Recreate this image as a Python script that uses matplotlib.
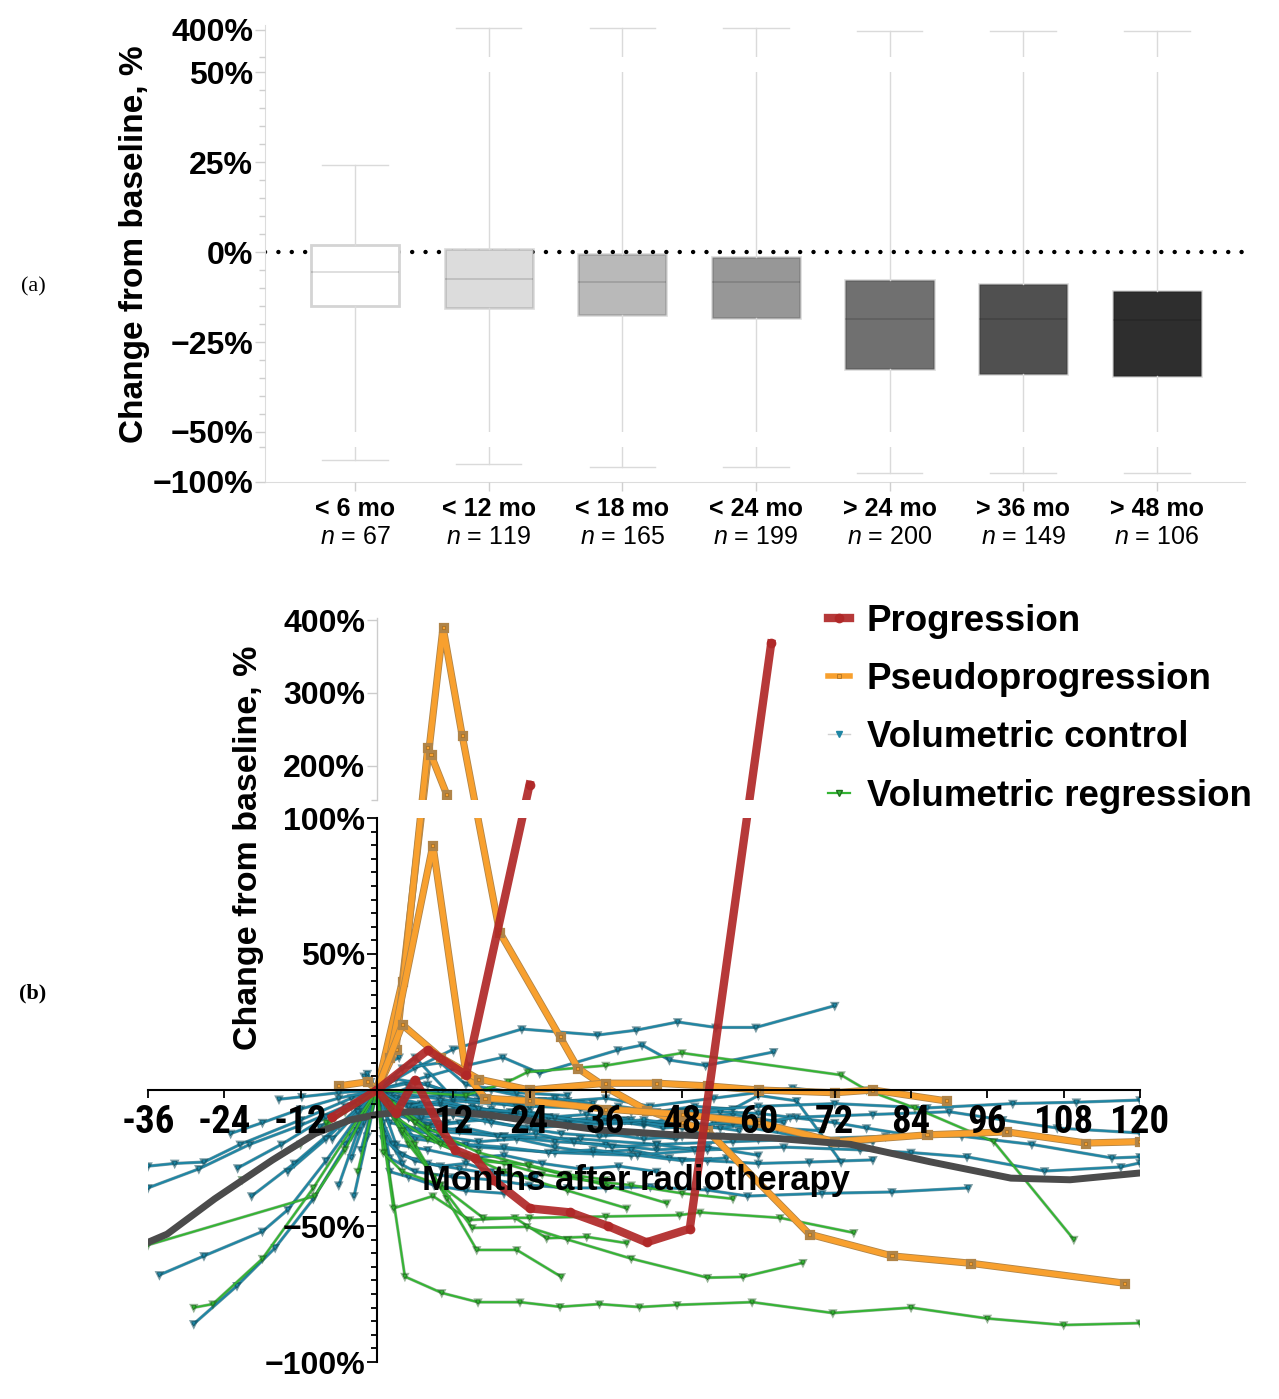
import numpy as np
import matplotlib
matplotlib.use("Agg")
import matplotlib.pyplot as plt
import matplotlib.patheffects as pe
from matplotlib.lines import Line2D
from matplotlib.ticker import FixedLocator, NullFormatter

plt.rcParams['font.family'] = ['Liberation Sans', 'DejaVu Sans']
plt.rcParams['mathtext.fontset'] = 'custom'
plt.rcParams['mathtext.rm'] = 'Liberation Sans'
plt.rcParams['mathtext.it'] = 'Liberation Sans:italic'

# ---------------- panel (a) data ----------------
groups = ['< 6 mo', '< 12 mo', '< 18 mo', '< 24 mo', '> 24 mo', '> 36 mo', '> 48 mo']
group_n = [67, 119, 165, 199, 200, 149, 106]
box_q3 = [1.9, 0.8, -0.6, -1.4, -7.9, -9.0, -10.9]
box_med = [-5.6, -7.5, -8.2, -8.4, -18.5, -18.7, -19.0]
box_q1 = [-15.0, -15.5, -17.6, -18.4, -32.4, -34.0, -34.5]
whisk_hi = [24.2, 401.6, 401.6, 401.6, 399.5, 399.5, 399.5]
whisk_lo = [-87.4, -89.7, -91.4, -91.4, -94.9, -94.9, -94.9]

# ---------------- panel (b) data ----------------
prog_months = [[0, 8, 14, 24],
               [-7, 0, 3, 6, 10, 12.3, 15.4, 18.3, 24, 30.4, 36.3, 42.4, 49.2, 62]]
prog_pct = [[0, 14.7, 5.5, 174],
            [-10, 0, -8.5, 3.7, -14, -22, -25, -33, -43.5, -45, -50, -56, -51, 368]]

pseudo_months = [[0, 4, 10.4, 13.4, 19.3, 28.8, 31.6, 36, 42.4, 48, 52, 68, 81, 93.4, 117.5],
                 [0, 3, 8, 8.5, 11],
                 [0, 2, 8.8, 14, 17, 24, 36, 48, 60, 72, 86.5, 99, 111.5, 120],
                 [-6, -1.5, 0, 4, 10, 16, 24, 36, 44, 52, 60, 72, 78, 89.5]]
pseudo_pct = [[0, 40, 390, 242, 58, 19.5, 8, 1, -7.4, -12, -15, -53, -61, -63.7, -71],
              [0, 15, 225, 215, 160],
              [0, 12, 90, 6, -3, -4, -7, -9, -12, -19, -16.5, -15.4, -19.5, -19],
              [1.5, 3, 0, 24, 12, 4, 0, 2.5, 2.5, 1.5, 0, -1, 0, -4]]

ctrl_months = [
    [-36, -31.8, -27.2, -21.5, -12, -4, 0],
    [-36, -28, -20, -12, -5, 0],
    [-34.2, -27.2, -18, -14, -8, 0],
    [-28.8, -22, -16, -10, -4, 0],
    [-15.4, -11.8, -6, 0],
    [-23, -18, -12, -6, 0],
    [-21.9, -15, -8, 0],
    [-19.7, -13, -6, 0],
    [-9, -4, 0],
    [-3.6, -1.5, 0],
    [-5, -2, 0],
    [-2, -1, 0],
    [-14, -8, -3, 0],
    [-4, -2, 0],
    [-6, -3, 0],
    [-2.5, 0],
    [-7, -3, 0],
    [-1.5, 0],
    [0, 6, 12, 22.8, 34.7, 40.8, 47.3, 53.3, 59.6, 72],
    [0, 8, 14, 19.8, 25.6, 37.9, 41.7, 46, 51.7, 62.4],
    [0, 3, 9, 15, 21, 27, 33, 39, 45, 51, 57],
    [0, 2, 8, 14, 20, 28, 36, 44, 52, 60],
    [0, 4, 10, 16, 24, 32, 40, 48, 56, 64],
    [0, 3, 8, 14, 20, 26, 32, 38, 44],
    [0, 5, 11, 17, 23, 29, 35, 41, 47, 53, 59, 72.6, 78],
    [0, 2, 6, 12, 18, 24, 30, 36, 43, 52, 58.3, 70, 81, 93],
    [0, 6, 12, 18, 24, 30, 36, 43, 53, 65.4, 72],
    [0, 6, 12, 18, 24, 30, 36, 42, 48, 54, 60, 65, 72, 77, 82.4],
    [0, 4, 10, 16, 22, 28, 34, 40, 46, 52, 60, 68, 78],
    [0, 3, 8, 14, 20, 26, 32, 38, 44, 50, 56, 60, 66, 73],
    [0, 12, 24, 36, 48, 60, 72, 86.5, 100, 110, 120],
    [0, 6, 18, 30, 42, 54, 66, 78, 90, 98.4, 107, 120],
    [0, 8, 20, 32, 44, 56, 68, 80, 92, 103, 115.6, 120],
    [0, 6, 16, 28, 40, 52, 64, 76, 84, 92.8, 105, 117, 120],
    [0, 6, 12, 18, 22],
    [0, 4, 10, 14, 22, 30],
    [0, 1, 3, 6, 10, 14, 18],
    [0, 2, 5, 9, 13],
    [0, 3, 7, 12, 18, 24, 30, 36, 42, 48, 54, 60],
    [0, 2, 5, 9, 14, 20],
    [0, 1, 2.5, 4],
    [0, 1, 2, 3.5],
    [0, 3, 7, 12, 18, 24, 30, 36, 42, 48],
    [0, 2, 6, 10, 15, 21, 27, 33, 40],
    [0, 4, 9, 14, 20, 27, 34, 41, 48, 55],
    [0, 2, 5, 10, 16, 22, 28, 34],
    [0, 3, 8, 13, 19, 25, 31, 37, 44, 50],
    [0, 1, 4, 8, 13, 19, 25],
    [0, 5, 10, 16, 22, 28, 35, 42, 49, 56, 63, 70],
]
ctrl_pct = [
    [-28, -27, -26.5, -20, -11, -3, 0],
    [-36, -29, -20, -13, -6, 0],
    [-68, -61, -52, -44, -26, 0],
    [-86, -72, -58, -40, -17, 0],
    [-3.4, -2.5, -1, 0],
    [-16, -12, -7, -3, 0],
    [-28.7, -20, -10, 0],
    [-39, -27, -13, 0],
    [-13.6, -6, 0],
    [-39, -17, 0],
    [-20, -9, 0],
    [5, 3, 0],
    [-30, -18, -7, 0],
    [-25, -12, 0],
    [-35, -15, 0],
    [-22, 0],
    [-18, -8, 0],
    [6, 0],
    [0, 8, 15, 22.4, 20.2, 22, 25, 23, 23, 31],
    [0, 5, 9, 12, 6.2, 14.7, 16.5, 11, 9, 14],
    [0, -5, -8, -6, -9, -10, -12, -11, -14, -13, -15],
    [0, -12, -15, -14, -17, -19, -20, -22, -21, -24],
    [0, -3, -2, -4, -6, -5, -8, -10, -9, -12],
    [0, -20, -22, -25, -24, -27, -29, -28, -30],
    [0, -10, -12, -11, -14, -16, -17, -16, -18, -12, -14, -19.6, -19],
    [0, -25, -30, -32, -33, -35, -36, -36, -35.6, -36.8, -39, -38, -37.5, -36],
    [0, 3, -1, 0, -3, -4, -3, -6, -3, 0.7, -1],
    [0, -6, -9, -7, -10, -12, -11, -13, -9, -8, -8.6, -10, -12, -14, -16],
    [0, -14, -17, -19, -18, -21, -23, -22, -25, -26, -27, -26.5, -25.7],
    [0, 4, 2, -3, -5, -4, -7, -6, -8, -6, -7, -2, -4, -26.5],
    [0, -4, -6, -7, -8, -6, -5, -6.6, -5, -4.5, -3.7],
    [0, -8, -10, -13, -12, -14, -10, -9, -8, -11, -14, -15.8],
    [0, -15, -17, -18, -20, -19, -18, -17, -17, -20, -25, -24.6],
    [0, -18, -21, -23, -24, -22, -21, -22, -23, -24.6, -29.8, -28.3, -26.8],
    [0, 12, -3, -4, -6],
    [0, 8, 10, 2, -1, -2],
    [0, -15, -22, -26, -28, -27, -30],
    [0, -8, -10, -13, -12],
    [0, -3, -5, -6, -9, -8, -11, -10, -12, -14, -17, -18],
    [0, -30, -32, -35, -37, -38],
    [0, -12, -20, -27],
    [0, 6, 10, 12],
    [0, -7, -10, -9, -12, -14, -13, -16, -18, -17],
    [0, -4, -6, -5, -7, -8, -10, -9, -11],
    [0, -16, -18, -20, -21, -23, -22, -24, -26, -25],
    [0, -2, 1, -1, -2, -4, -3, -5],
    [0, -9, -13, -15, -17, -16, -19, -21, -20, -22],
    [0, -18, -24, -27, -29, -31, -32],
    [0, -6, -4, -7, -8, -10, -12, -11, -13, -12, -14, -15],
]

reg_months = [
    [-36, -9.8, -5, 0],
    [-28.8, -25.8, -18, -10, 0],
    [-21.2, -12, -5, 0],
    [-8, -3, 0],
    [-3, 0],
    [0, 4.4, 10.2, 15.9, 22.5, 28.8, 35, 41.3, 47.2, 59, 71.7, 84, 96, 108, 120],
    [0, 2.6, 8.8, 14.6, 21.7, 26.7, 33, 39.3],
    [0, 6, 11, 15.7, 22, 29],
    [0, 5, 10, 16.7, 24, 36, 47.6, 50.8, 63.4, 75],
    [0, 4, 9, 15, 23.6, 30, 40, 52, 57.6, 67],
    [0, 6, 12, 20, 30, 39.3],
    [0, 8, 16, 24, 36, 45.6],
    [0, 1, 4, 10],
    [0, 3, 8, 14, 20, 26, 32, 40, 48, 56],
    [0, 2, 6, 10, 16, 23.8, 30, 36],
    [0, 14, 20.6, 23.7, 36, 48, 73, 77, 84.6, 97, 109.6],
]
reg_pct = [
    [-57, -39, -22, 0],
    [-80, -78.7, -62, -36, 0],
    [-33, -20, -8, 0],
    [-12, -5, 0],
    [-30, 0],
    [0, -68.6, -74.6, -78, -78, -79.7, -78.7, -79.8, -79, -78, -82, -80, -84, -86.4, -85.7],
    [0, -43.5, -39, -47.8, -47, -54.5, -54, -56.3],
    [0, -20, -40, -58.8, -58.8, -68.7],
    [0, -20, -35, -47, -47, -46.5, -46, -45, -47, -52.5],
    [0, -15, -32, -50.7, -50.3, -55, -62, -69, -68.7, -63.5],
    [0, -12, -22, -30, -37, -43.5],
    [0, -14, -23, -28, -35, -41.6],
    [0, -23, -30, -35],
    [0, -10, -18, -24, -27, -31, -33, -35, -38, -40],
    [0, -5, -12, -20, -26, -27.6, -31, -33],
    [0, -2, 3, 6.6, 9, 13.6, 5.5, 0, -6.6, -19, -55],
]

trend_months = [-36, -33, -25.5, -16.4, -9.7, -4.2, 0, 4.9, 10.8, 17, 23, 35, 47, 62, 74.5, 87, 99.7, 109, 120]
trend_pct = [-56, -53, -40, -25.7, -16, -11, -9, -8, -8, -9, -11, -14.7, -16.5, -17.6, -20, -26.4, -32.4, -33, -30.5]

x_ticks_b = [-36, -24, -12, 12, 24, 36, 48, 60, 72, 84, 96, 108, 120]

# ---------------- figure ----------------
W, H = 1279, 1399
fig = plt.figure(figsize=(W / 100, H / 100), dpi=100)


def rect(x0, y0, x1, y1):
    return [x0 / W, 1 - y1 / H, (x1 - x0) / W, (y1 - y0) / H]


def piecewise(vals, px):
    vals = np.asarray(vals, float)
    px = np.asarray(px, float)
    return (lambda v: np.interp(v, vals, px), lambda u: np.interp(u, px, vals))


def pct_label(v):
    return ('\u2212' if v < 0 else '') + '%d%%' % abs(v)


GRAY_T = '#cfcfcf'

# ---- panel (a) ----
ax_a = fig.add_axes(rect(265, 25, 1245, 482))
ax_a.set_yscale('function', functions=piecewise(
    [-1000, -100, -80, -50, 50, 378, 404, 2000],
    [-1575, 0, 35, 50, 410, 425, 457, 2420]))
ax_a.set_ylim(-100, 404)
ax_a.set_xlim(-0.674, 6.66)
ax_a.set_axisbelow(False)

stats = []
for i in range(len(groups)):
    stats.append(dict(med=box_med[i], q1=box_q1[i], q3=box_q3[i],
                      whislo=whisk_lo[i], whishi=whisk_hi[i], fliers=[]))
face = ['#ffffff', '#dcdcdc', '#b9b9b9', '#979797', '#707070', '#505050', '#2e2e2e']
bp = ax_a.bxp(stats, positions=range(len(groups)), widths=0.66, capwidths=0.49,
              patch_artist=True, showfliers=False, manage_ticks=False,
              whiskerprops=dict(color='#dadada', lw=1),
              capprops=dict(color='#dadada', lw=1),
              medianprops=dict(color=(0, 0, 0, 0.15), lw=1.2))
for i, b in enumerate(bp['boxes']):
    b.set_facecolor(face[i])
    b.set_edgecolor('#d4d4d4' if i == 0 else (0, 0, 0, 0.13))
    b.set_linewidth(2)

ax_a.axhline(0, color='black', lw=3.2, ls=(0, (0.01, 3.0)), dash_capstyle='round', zorder=1.5)
# breaks of the axis
ax_a.axhspan(-80, -50, color='white', lw=0, zorder=2.2)
ax_a.axhspan(50, 378, color='white', lw=0, zorder=2.2)

for s in ['top', 'right']:
    ax_a.spines[s].set_visible(False)
ax_a.spines['left'].set_color('#dcdcdc')
ax_a.spines['bottom'].set_color('#dcdcdc')

ytk_a = [400, 50, 25, 0, -25, -50, -100]
ax_a.set_yticks(ytk_a, [pct_label(v) for v in ytk_a], fontsize=23, fontweight='bold')
ax_a.yaxis.set_minor_locator(FixedLocator([378, -80] + [v for v in range(-45, 50, 5) if v % 25]))
ax_a.yaxis.set_minor_formatter(NullFormatter())
ax_a.tick_params(axis='y', which='major', length=7, width=1, color=GRAY_T, pad=1.5)
ax_a.tick_params(axis='y', which='minor', length=4.3, width=1, color=GRAY_T)
ax_a.set_xticks(range(len(groups)), groups, fontsize=18, fontweight='bold')
ax_a.tick_params(axis='x', length=6.5, width=1, color=GRAY_T, pad=4)
for i, n in enumerate(group_n):
    ax_a.text(i, -0.12, '$n$ = %d' % n, transform=ax_a.get_xaxis_transform(),
              ha='center', va='center', fontsize=18)

fig.text(135 / W, 1 - 244 / H, 'Change from baseline, %', rotation=90,
         ha='center', va='center', fontsize=24, fontweight='bold')
fig.text(33 / W, 1 - 287 / H, '(a)', ha='center', va='center', fontsize=16,
         family='Liberation Serif')

# ---- panel (b) ----
teal = '#1f86a4'
green = '#33b533'
orange = '#f8a02e'
red = '#b02828'

ax_b = fig.add_axes(rect(148, 618, 1140, 1362))
ax_b.set_yscale('function', functions=piecewise(
    [-1000, -100, 100, 153, 403, 2000],
    [-2448, 0, 544, 562, 744, 1906.6]))
ax_b.set_ylim(-100, 403)
ax_b.set_xlim(-36, 120)
ax_b.set_axisbelow(False)

teal_edge = [pe.Stroke(linewidth=2.3, foreground='#0c4a5a', alpha=0.55), pe.Normal()]
green_edge = [pe.Stroke(linewidth=2.2, foreground='#1a5a1a', alpha=0.45), pe.Normal()]
for m, p in zip(ctrl_months, ctrl_pct):
    ax_b.plot(m, p, color=teal, lw=1.5, marker='v', ms=3.2, mew=0.4,
              mec='#0e5568', zorder=2.0, path_effects=teal_edge)
for m, p in zip(reg_months, reg_pct):
    ax_b.plot(m, p, color=green, lw=1.4, marker='v', ms=3.2, mew=0.4,
              mec='#1d6e1d', zorder=2.05, path_effects=green_edge)
for m, p in zip(pseudo_months, pseudo_pct):
    ax_b.plot(m, p, color=orange, lw=4, marker='s', ms=2.2, mew=0.5, mec='#a06a20',
              zorder=2.2, path_effects=[pe.Stroke(linewidth=5.2, foreground='#b08448'), pe.Normal()])
ax_b.plot(trend_months, trend_pct, color='#4b4b4b', lw=5, solid_capstyle='round', zorder=2.3)
for m, p in zip(prog_months, prog_pct):
    ax_b.plot(m, p, color=red, alpha=0.92, lw=6, marker='o', ms=6, zorder=2.4)

ax_b.axhspan(100, 153, color='white', lw=0, zorder=2.45)

for s in ['top', 'right']:
    ax_b.spines[s].set_visible(False)
ax_b.spines['left'].set_position(('data', 0))
ax_b.spines['left'].set_bounds(-100, 100)
ax_b.spines['left'].set_linewidth(1.5)
ax_b.spines['bottom'].set_position(('data', 0))
ax_b.spines['bottom'].set_linewidth(1.5)
ax_b.plot([0, 0], [153, 403], color='#cccccc', lw=1, zorder=2.6, clip_on=False)

ytk_b = [400, 300, 200, 100, 50, -50, -100]
ax_b.set_yticks(ytk_b, [pct_label(v) for v in ytk_b], fontsize=23, fontweight='bold')
ax_b.yaxis.set_minor_locator(FixedLocator([153] + [v for v in range(-95, 100, 5) if v % 50]))
ax_b.yaxis.set_minor_formatter(NullFormatter())
ax_b.tick_params(axis='y', which='major', length=7, width=1.3, pad=1.5)
ax_b.tick_params(axis='y', which='minor', length=4, width=1.3)
for t, v in zip(ax_b.yaxis.get_major_ticks(), ytk_b):
    if v > 150:
        t.tick1line.set_color('#cccccc')
        t.tick1line.set_markeredgecolor('#cccccc')
        t.tick1line.set_markeredgewidth(1)
for t, v in zip(ax_b.yaxis.get_minor_ticks(), ax_b.yaxis.get_minorticklocs()):
    if v > 150:
        t.tick1line.set_markeredgecolor('#cccccc')
        t.tick1line.set_markeredgewidth(1)

ax_b.set_xticks(x_ticks_b, ['-%d' % abs(v) if v < 0 else '%d' % v for v in x_ticks_b],
                fontsize=28, fontweight='bold',
                fontfamily=['Liberation Sans Narrow', 'Roboto Condensed',
                            'DejaVu Sans Condensed', 'Liberation Sans'])
ax_b.tick_params(axis='x', length=6, width=1.3, pad=4)
ax_b.set_xlabel('Months after radiotherapy', fontsize=25, fontweight='bold')
ax_b.xaxis.set_label_coords(0.492, 0.2665)

fig.text(248 / W, 1 - 848 / H, 'Change from baseline, %', rotation=90,
         ha='center', va='center', fontsize=24.5, fontweight='bold')
fig.text(33 / W, 1 - 993 / H, '(b)', ha='center', va='center', fontsize=16,
         fontweight='bold', family='Liberation Serif')

handles = [
    Line2D([], [], color=red, alpha=0.92, lw=6, marker='o', ms=6),
    Line2D([], [], color=orange, lw=4, marker='s', ms=3, mew=0.5, mec='#a06a20'),
    Line2D([], [], color='#d0d0d0', lw=1, marker='v', ms=4, mfc=teal, mec=teal),
    Line2D([], [], color=green, lw=1.6, marker='v', ms=4, mfc=green, mec='#1d6e1d'),
]
labels = ['Progression', 'Pseudoprogression', 'Volumetric control', 'Volumetric regression']
fig.legend(handles, labels, loc='upper left', bbox_to_anchor=(828 / W, 1 - 604 / H),
           frameon=False, prop=dict(size=26.5, weight='bold'), handlelength=0.6,
           handletextpad=0.45, labelspacing=0.63, borderaxespad=0, borderpad=0)

fig.savefig('out.png', dpi=100)
